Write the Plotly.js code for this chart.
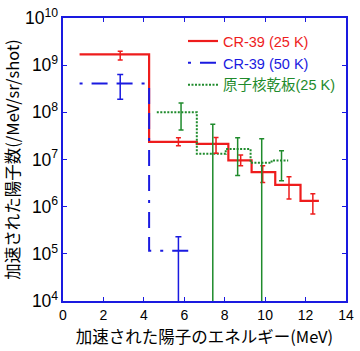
<!DOCTYPE html>
<html>
<head>
<meta charset="utf-8">
<script src="https://cdn.plot.ly/plotly-3.0.1.min.js"></script>
<style>
html,body{margin:0;padding:0;background:#fff;}
#chart{width:360px;height:351px;}
</style>
</head>
<body>
<div id="chart"></div>
<script>
// CR-39 (25 K): bin edges (MeV) and values (/MeV/sr/shot)
const redEdges  = [0.82, 4.26, 6.62, 8.18, 9.33, 10.5, 11.75, 12.66];
const redValues = [1.69e9, 2.37e7, 2.15e7, 9.55e6, 5.4e6, 2.91e6, 1.33e6];
const redErrX    = [2.83, 5.71, 7.57, 8.79, 9.88, 11.18, 12.36];
const redErrHigh = [1.98e9, 2.88e7, 2.94e7, 1.24e7, 7.35e6, 4.3e6, 1.87e6];
const redErrLow  = [1.28e9, 1.95e7, 1.35e7, 7.35e6, 3.27e6, 1.45e6, 6.96e5];

// CR-39 (50 K)
const blueEdges  = [0.82, 4.26, 6.45];
const blueValues = [4.1e8, 1.16e5];
const blueErrX    = [2.83, 5.71];
const blueErrHigh = [6.35e8, 2.3e5];
const blueErrLow  = [1.9e8, 1e3];

// 原子核乾板 (25 K)
const greenEdges  = [4.64, 6.62, 8.05, 9.28, 10.32, 11.14];
const greenValues = [1.0e8, 1.32e7, 1.66e7, 8.5e6, 9.55e6];
const greenErrX    = [5.84, 7.41, 8.64, 9.83, 10.81];
const greenErrHigh = [1.58e8, 5.6e7, 2.88e7, 2.76e7, 1.53e7];
const greenErrLow  = [4.2e7, 1e3, 4.6e6, 1e3, 3.55e6];

const xTickVals = [0, 2, 4, 6, 8, 10, 12, 14];

const RED = '#ee1c1c', BLUE = '#1a1ae0', GREEN = '#1f8b2c';
const LATIN = 'Liberation Sans, Arial, Noto Sans CJK JP, sans-serif';
const CJK = 'Noto Sans CJK JP, sans-serif';

function stepTrace(edges, vals, color, dash, name, w) {
  return {
    x: edges, y: vals.concat([vals[vals.length - 1]]),
    type: 'scatter', mode: 'lines',
    line: {shape: 'hv', color: color, width: w, dash: dash},
    name: name, showlegend: true, hoverinfo: 'skip'
  };
}
function errTrace(ex, edges, vals, hi, lo, color, capw) {
  const cy = ex.map((x) => {
    let i = 0;
    while (i < vals.length - 1 && x >= edges[i + 1]) i++;
    return vals[i];
  });
  return {
    x: ex, y: cy, type: 'scatter', mode: 'markers',
    marker: {size: 1, color: 'rgba(0,0,0,0)'},
    error_y: {type: 'data', symmetric: false,
      array: hi.map((h, i) => h - cy[i]),
      arrayminus: lo.map((l, i) => cy[i] - l),
      color: color, thickness: 1.5, width: capw, visible: true},
    showlegend: false, hoverinfo: 'skip'
  };
}

const data = [
  stepTrace(redEdges, redValues, RED, 'solid', '<span style="color:' + RED + '">CR-39 (25 K)</span>', 2.2),
  stepTrace(blueEdges, blueValues, BLUE, '3px,9px,16px,9px,16px,9px', '<span style="color:' + BLUE + '">CR-39 (50 K)</span>', 2),
  stepTrace(greenEdges, greenValues, GREEN, '2px,1.5px', '<span style="color:' + GREEN + '">原子核乾板(25 K)</span>', 2),
  errTrace(redErrX, redEdges, redValues, redErrHigh, redErrLow, RED, 2.5),
  errTrace(blueErrX, blueEdges, blueValues, blueErrHigh, blueErrLow, BLUE, 3),
  errTrace(greenErrX, greenEdges, greenValues, greenErrHigh, greenErrLow, GREEN, 2.5)
];

const layout = {
  width: 360, height: 351,
  margin: {l: 63, r: 14, t: 18, b: 50},
  paper_bgcolor: '#fff', plot_bgcolor: '#fff',
  showlegend: true,
  legend: {x: 0.424, y: 0.975, xanchor: 'left', yanchor: 'top',
    bgcolor: 'rgba(255,255,255,0)', borderwidth: 0,
    font: {family: LATIN, size: 14.5, color: '#000'},
    tracegroupgap: 0},
  xaxis: {
    range: [0, 14], tickvals: xTickVals, ticktext: xTickVals.map(String),
    showgrid: false, zeroline: false,
    showline: true, linecolor: BLUE, linewidth: 2, mirror: 'ticks',
    ticks: 'inside', ticklen: 4, tickwidth: 1.2, tickcolor: BLUE,
    tickfont: {family: LATIN, size: 14, color: '#000'},
    title: {text: '加速された陽子のエネルギー(MeV)', font: {family: CJK, size: 16.5, color: '#000'}, standoff: 10}
  },
  yaxis: {
    type: 'log', range: [4, 10], dtick: 1, exponentformat: 'power',
    showgrid: false, zeroline: false,
    showline: true, linecolor: BLUE, linewidth: 2, mirror: 'ticks',
    ticks: 'inside', ticklen: 4, tickwidth: 1.2, tickcolor: BLUE,
    tickfont: {family: LATIN, size: 14, color: '#000'},
    title: {text: '加速された陽子数(/MeV/sr/shot)', font: {family: CJK, size: 16.5, color: '#000'}, standoff: 8}
  }
};

Plotly.newPlot('chart', data, layout, {staticPlot: true, displayModeBar: false});
</script>
</body>
</html>
